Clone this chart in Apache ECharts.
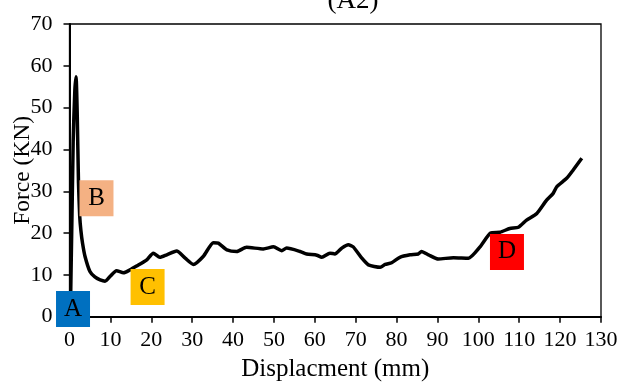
<!DOCTYPE html>
<html><head><meta charset="utf-8">
<script src="https://cdn.jsdelivr.net/npm/echarts@6/dist/echarts.min.js"></script>
<style>html,body{margin:0;padding:0;background:#fff}#c{width:619px;height:383px}</style>
</head><body><div id="c"></div>
<script>
var dispX = [0, 0.3, 0.9, 1.3, 1.6, 1.9, 2.2, 2.5, 2.8, 3.2, 3.8, 5.0, 6.2, 7.5, 8.7, 9.9, 11.5, 13.2, 14.8, 16.4, 18.9, 20.5, 22.1, 23.8, 26.2, 28.3, 30.3, 32.7, 35.2, 36.4, 38.5, 40.9, 43.3, 47.4, 49.9, 51.9, 53.1, 56.4, 58.0, 60.5, 61.7, 63.7, 64.9, 66.6, 68.2, 69.4, 71.5, 73.1, 76.0, 77.2, 78.8, 80.8, 83.3, 85.3, 86.1, 87.8, 90.2, 93.9, 97.6, 100.4, 103.0, 105.3, 107.7, 109.8, 111.8, 114.3, 116.7, 118.3, 119.2, 121.6, 123.2, 125.3];
var force = [0, 6, 42, 54, 57.4, 48, 32, 24, 20.5, 17.5, 14.4, 10.8, 9.5, 8.8, 8.5, 9.6, 11.0, 10.5, 11.2, 12.1, 13.6, 15.2, 14.2, 14.8, 15.7, 14.0, 12.5, 14.4, 17.7, 17.6, 16.0, 15.6, 16.6, 16.2, 16.7, 15.8, 16.4, 15.6, 15.0, 14.7, 14.2, 15.2, 15.0, 16.4, 17.2, 16.7, 14.0, 12.4, 11.8, 12.5, 12.9, 14.2, 14.8, 15.0, 15.6, 14.8, 13.8, 14.1, 14.0, 16.7, 20.0, 20.2, 21.1, 21.4, 23.1, 24.7, 27.9, 29.5, 31.1, 33.1, 35.1, 37.9];
var stageNames = ['A', 'B', 'C', 'D'];
var stageX = [0.86, 6.6, 19.1, 107.0];
var stageY = [1.84, 28.3, 7.1, 15.5];
var stageColors = ['#0070C0', '#F4B183', '#FFC000', '#FF0000'];
var titleText = '(A2)';
var xName = 'Displacment (mm)';
var yName = 'Force (KN)';

var font = '"Liberation Serif", "Times New Roman", serif';
var chart = echarts.init(document.getElementById('c'));
var pts = dispX.map(function (x, i) { return [x, force[i]]; });
var marks = stageNames.map(function (n, i) {
  return {
    name: n, coord: [stageX[i], stageY[i]],
    itemStyle: { color: stageColors[i] },
    label: { show: true, formatter: n, color: '#000', fontSize: 25, fontFamily: font, position: 'inside' }
  };
});
chart.setOption({
  animation: false,
  backgroundColor: '#fff',
  grid: { left: 69.5, right: 18, top: 24, bottom: 66.3, show: true, borderColor: '#000', borderWidth: 1.3,
          backgroundColor: 'transparent', containLabel: false, outerBoundsMode: 'none' },
  graphic: [{
    type: 'text', x: 353, y: 14,
    style: { text: titleText, font: '27px ' + font, fill: '#000', textAlign: 'center', textVerticalAlign: 'bottom' }
  }],
  xAxis: {
    type: 'value', min: 0, max: 130, interval: 10,
    name: xName, nameLocation: 'middle', nameGap: 40, nameMoveOverlap: false,
    nameTextStyle: { fontSize: 25, fontFamily: font, color: '#000' },
    axisLine: { lineStyle: { color: '#000', width: 2 } },
    axisTick: { show: true, length: 6, lineStyle: { color: '#000', width: 1.5 } },
    axisLabel: { fontSize: 22, fontFamily: font, color: '#000', margin: 13 },
    splitLine: { show: false }
  },
  yAxis: {
    type: 'value', min: 0, max: 70, interval: 10,
    name: yName, nameLocation: 'middle', nameGap: 35, nameMoveOverlap: false,
    nameTextStyle: { fontSize: 23.5, fontFamily: font, color: '#000' },
    axisLine: { show: true, lineStyle: { color: '#000', width: 2 } },
    axisTick: { show: true, length: 6, lineStyle: { color: '#000', width: 1.5 } },
    axisLabel: { fontSize: 22, fontFamily: font, color: '#000', margin: 17 },
    splitLine: { show: false }
  },
  series: [{
    type: 'line', data: pts, showSymbol: false, smooth: 0.2,
    lineStyle: { color: '#000', width: 3.5 },
    markPoint: {
      symbol: 'rect', symbolSize: [34, 36], silent: true,
      data: marks
    }
  }]
});
</script></body></html>
